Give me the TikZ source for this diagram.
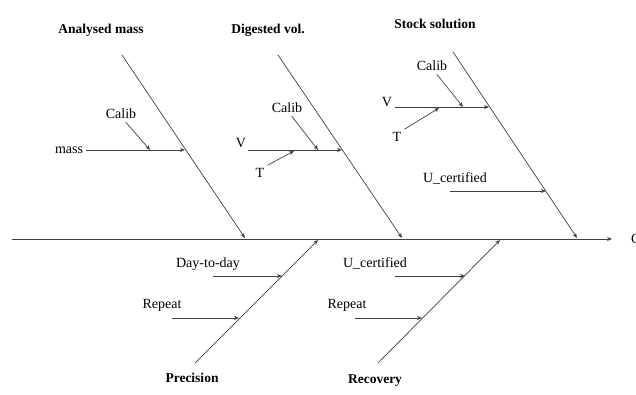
\documentclass[tikz,border=0pt]{standalone}
\usepackage{fontspec}
\setmainfont{Liberation Serif}
\usetikzlibrary{arrows.meta, positioning, calc}
\tikzstyle{arrow} = [line width=0.7pt, draw=black!75, -{Stealth[length=5pt,width=4pt]}]
\tikzstyle{cause} = [font=\fontsize{13.5}{15}\selectfont\bfseries, inner sep=2pt]
\tikzstyle{factor} = [font=\fontsize{14}{16}\selectfont, inner sep=3pt]

\begin{document}
\begin{tikzpicture}[x=1pt, y=-1pt]
    \useasboundingbox (0,0) rectangle (636,394);

    % spine
    \coordinate (tail) at (12,239);
    \coordinate (head) at (612,239);
    \node[factor, anchor=west] (effect) at (628,239) {C};
    \draw[arrow] (tail) -- (head);

    % upper bones
    \node[cause] (mass) at (101,30) {Analysed mass};
    \node[cause] (vol) at (268,30) {Digested vol.};
    \node[cause] (stock) at (435,24) {Stock solution};
    \coordinate (b1t) at (122,55);  \coordinate (b1h) at (245,238);
    \coordinate (b2t) at (278,55);  \coordinate (b2h) at (402,238);
    \coordinate (b3t) at (453,52);  \coordinate (b3h) at (577,238);
    \draw[arrow] (b1t) -- (b1h);
    \draw[arrow] (b2t) -- (b2h);
    \draw[arrow] (b3t) -- (b3h);

    % lower bones
    \node[cause] (prec) at (192,378) {Precision};
    \node[cause] (rec) at (375,381) {Recovery};
    \coordinate (b4t) at (195,363);  \coordinate (b4h) at (318,240);
    \coordinate (b5t) at (378,363);  \coordinate (b5h) at (500,240);
    \draw[arrow] (b4t) -- (b4h);
    \draw[arrow] (b5t) -- (b5h);

    % analysed mass
    \node[factor] (m) at (69,150) {mass};
    \node[factor] (c1) at (121,114) {Calib};
    \coordinate (m1) at (185,150);
    \coordinate (m2) at (150,150);
    \draw[arrow] (m.east) -- (m1);
    \draw[arrow] (c1.-60) -- (m2);

    % digested vol.
    \node[factor] (v2) at (241,143) {V};
    \node[factor] (c2) at (287,108) {Calib};
    \node[factor] (t2) at (260,173) {T};
    \coordinate (v2s) at (248,150);  \coordinate (v2e) at (342,150);
    \coordinate (c2e) at (318,150);
    \coordinate (t2e) at (294,151);
    \draw[arrow] (v2s) -- (v2e);
    \draw[arrow] (c2.-60) -- (c2e);
    \draw[arrow] (t2.north east) -- (t2e);

    % stock solution
    \node[factor] (v3) at (387,102) {V};
    \node[factor] (c3) at (432,66) {Calib};
    \node[factor] (t3) at (397,137) {T};
    \node[factor] (u3) at (455,178) {U\_certified};
    \coordinate (v3s) at (395,107);  \coordinate (v3e) at (489,107);
    \coordinate (c3e) at (463,107);
    \coordinate (t3e) at (439,108);
    \coordinate (u3s) at (450,191);  \coordinate (u3e) at (546,191);
    \draw[arrow] (v3s) -- (v3e);
    \draw[arrow] (c3.-60) -- (c3e);
    \draw[arrow] (t3.north east) -- (t3e);
    \draw[arrow] (u3s) -- (u3e);

    % precision
    \node[factor] (day) at (208,264) {Day-to-day};
    \node[factor] (rep1) at (162,305) {Repeat};
    \coordinate (days) at (213,276);  \coordinate (daye) at (282,276);
    \coordinate (rep1s) at (172,318); \coordinate (rep1e) at (239,318);
    \draw[arrow] (days) -- (daye);
    \draw[arrow] (rep1s) -- (rep1e);

    % recovery
    \node[factor] (u5) at (375,263) {U\_certified};
    \node[factor] (rep2) at (347,305) {Repeat};
    \coordinate (u5s) at (395,276);   \coordinate (u5e) at (465,276);
    \coordinate (rep2s) at (355,318); \coordinate (rep2e) at (422,318);
    \draw[arrow] (u5s) -- (u5e);
    \draw[arrow] (rep2s) -- (rep2e);
\end{tikzpicture}
\end{document}
